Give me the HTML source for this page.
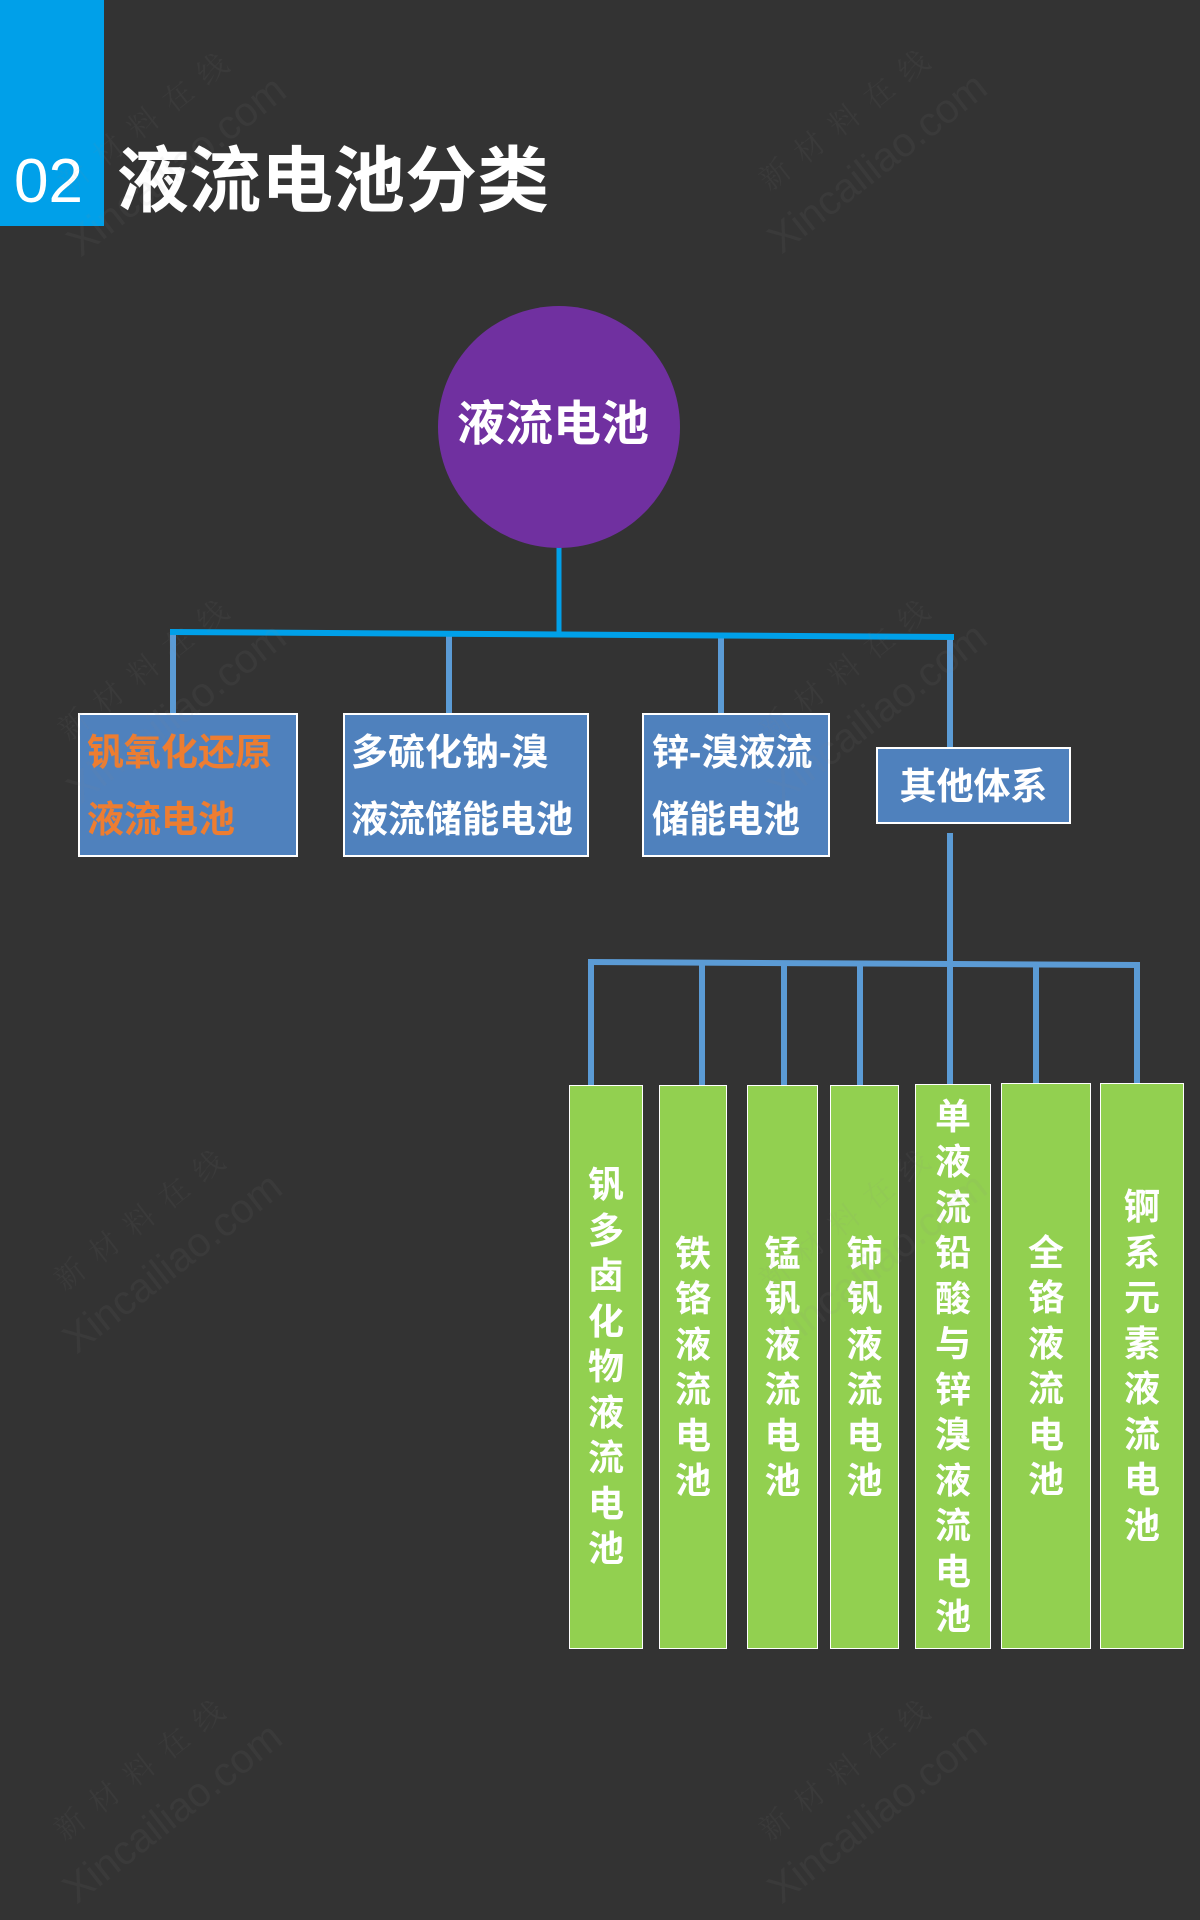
<!DOCTYPE html>
<html><head><meta charset="utf-8"><style>
*{margin:0;padding:0;box-sizing:border-box}
html,body{width:1200px;height:1920px;background:#333333;overflow:hidden}
body{position:relative;font-family:"Liberation Sans","Noto Sans CJK SC",sans-serif}
.abs{position:absolute}
.cjk{font-family:"Liberation Sans","Noto Sans CJK SC",sans-serif;font-weight:700;white-space:nowrap}
.bb{position:absolute;background:#4F81BD;border:2px solid #ffffff}
.gb{position:absolute;background:#92D050;border:1.5px solid #ffffff;display:flex;align-items:center;justify-content:center;color:#fff;font-weight:700;font-size:36px;line-height:45.5px;text-align:center;font-family:"Liberation Sans","Noto Sans CJK SC",sans-serif}
.wm{position:absolute;width:320px;height:106px;transform:rotate(-38deg);text-align:center;color:rgba(140,140,140,0.08);pointer-events:none;z-index:5}
.wm .c{font-family:"Liberation Serif","Noto Serif CJK SC",serif;font-size:30px;line-height:53px;letter-spacing:14px;padding-left:14px;white-space:nowrap}
.wm .l{font-family:"Liberation Sans",sans-serif;font-size:41px;line-height:53px;white-space:nowrap}
</style></head><body>

<!-- header -->
<div class="abs" style="left:0;top:0;width:104px;height:226px;background:#00A0E9"></div>
<div class="abs" style="left:14px;top:148px;height:68px;line-height:68px;font-size:62px;color:#fff;font-family:'Liberation Sans',sans-serif">02</div>
<div class="abs cjk" style="left:117px;top:142px;height:80px;line-height:80px;font-size:72px;color:#fff">液流电池分类</div>

<!-- connectors -->
<svg class="abs" style="left:0;top:0" width="1200" height="1920" viewBox="0 0 1200 1920">
  <g stroke="#5B9BD5" stroke-width="6" fill="none">
    <line x1="173" y1="632" x2="173" y2="714"/>
    <line x1="449" y1="634" x2="449" y2="714"/>
    <line x1="721" y1="635" x2="721" y2="714"/>
    <line x1="950" y1="637" x2="950" y2="748"/>
    <line x1="950" y1="833" x2="950" y2="1085"/>
    <line x1="588" y1="962" x2="1140" y2="965"/>
    <line x1="591" y1="962" x2="591" y2="1086"/>
    <line x1="702" y1="962" x2="702" y2="1086"/>
    <line x1="784" y1="963" x2="784" y2="1086"/>
    <line x1="860" y1="963" x2="860" y2="1086"/>
    <line x1="1036" y1="964" x2="1036" y2="1084"/>
    <line x1="1137" y1="963" x2="1137" y2="1084"/>
  </g>
  <g stroke="#00A0E9" fill="none">
    <line x1="559" y1="546" x2="559" y2="634" stroke-width="5"/>
    <line x1="170" y1="632" x2="954" y2="637" stroke-width="6"/>
  </g>
</svg>

<!-- root circle -->
<div class="abs" style="left:438px;top:306px;width:242px;height:242px;border-radius:50%;background:#7030A0"></div>
<div class="abs cjk" style="left:453px;top:397px;width:200px;height:56px;line-height:56px;font-size:48px;color:#fff;text-align:center">液流电池</div>

<!-- level 1 boxes -->
<div class="bb" style="left:78px;top:713px;width:220px;height:144px"></div>
<div class="abs cjk" style="left:87px;top:731px;line-height:44px;font-size:37px;color:#ED7D31">钒氧化还原</div>
<div class="abs cjk" style="left:87px;top:798px;line-height:44px;font-size:37px;color:#ED7D31">液流电池</div>

<div class="bb" style="left:343px;top:713px;width:246px;height:144px"></div>
<div class="abs cjk" style="left:351px;top:731px;line-height:44px;font-size:37px;color:#fff">多硫化钠-溴</div>
<div class="abs cjk" style="left:351px;top:798px;line-height:44px;font-size:37px;color:#fff">液流储能电池</div>

<div class="bb" style="left:642px;top:713px;width:188px;height:144px"></div>
<div class="abs cjk" style="left:652px;top:731px;line-height:44px;font-size:37px;color:#fff">锌-溴液流</div>
<div class="abs cjk" style="left:652px;top:798px;line-height:44px;font-size:37px;color:#fff">储能电池</div>

<div class="bb" style="left:876px;top:747px;width:195px;height:77px"></div>
<div class="abs cjk" style="left:876px;top:765px;width:195px;line-height:44px;font-size:37px;color:#fff;text-align:center">其他体系</div>

<!-- level 2 boxes -->
<div class="gb" style="left:569px;top:1085px;width:74px;height:564px"><div>钒<br>多<br>卤<br>化<br>物<br>液<br>流<br>电<br>池</div></div>
<div class="gb" style="left:659px;top:1085px;width:68px;height:564px"><div>铁<br>铬<br>液<br>流<br>电<br>池</div></div>
<div class="gb" style="left:747px;top:1085px;width:71px;height:564px"><div>锰<br>钒<br>液<br>流<br>电<br>池</div></div>
<div class="gb" style="left:830px;top:1085px;width:69px;height:564px"><div>铈<br>钒<br>液<br>流<br>电<br>池</div></div>
<div class="gb" style="left:915px;top:1084px;width:76px;height:565px"><div>单<br>液<br>流<br>铅<br>酸<br>与<br>锌<br>溴<br>液<br>流<br>电<br>池</div></div>
<div class="gb" style="left:1001px;top:1083px;width:90px;height:566px"><div>全<br>铬<br>液<br>流<br>电<br>池</div></div>
<div class="gb" style="left:1100px;top:1083px;width:84px;height:566px"><div>锕<br>系<br>元<br>素<br>液<br>流<br>电<br>池</div></div>

<!-- watermarks -->
<div class="wm" style="left:0px;top:92px"><div class="c">新材料在线</div><div class="l">Xincailiao.com</div></div>
<div class="wm" style="left:701px;top:89px"><div class="c">新材料在线</div><div class="l">Xincailiao.com</div></div>
<div class="wm" style="left:0px;top:639px"><div class="c">新材料在线</div><div class="l">Xincailiao.com</div></div>
<div class="wm" style="left:701px;top:639px"><div class="c">新材料在线</div><div class="l">Xincailiao.com</div></div>
<div class="wm" style="left:-4px;top:1189px"><div class="c">新材料在线</div><div class="l">Xincailiao.com</div></div>
<div class="wm" style="left:701px;top:1189px"><div class="c">新材料在线</div><div class="l">Xincailiao.com</div></div>
<div class="wm" style="left:-4px;top:1739px"><div class="c">新材料在线</div><div class="l">Xincailiao.com</div></div>
<div class="wm" style="left:701px;top:1739px"><div class="c">新材料在线</div><div class="l">Xincailiao.com</div></div>

</body></html>
